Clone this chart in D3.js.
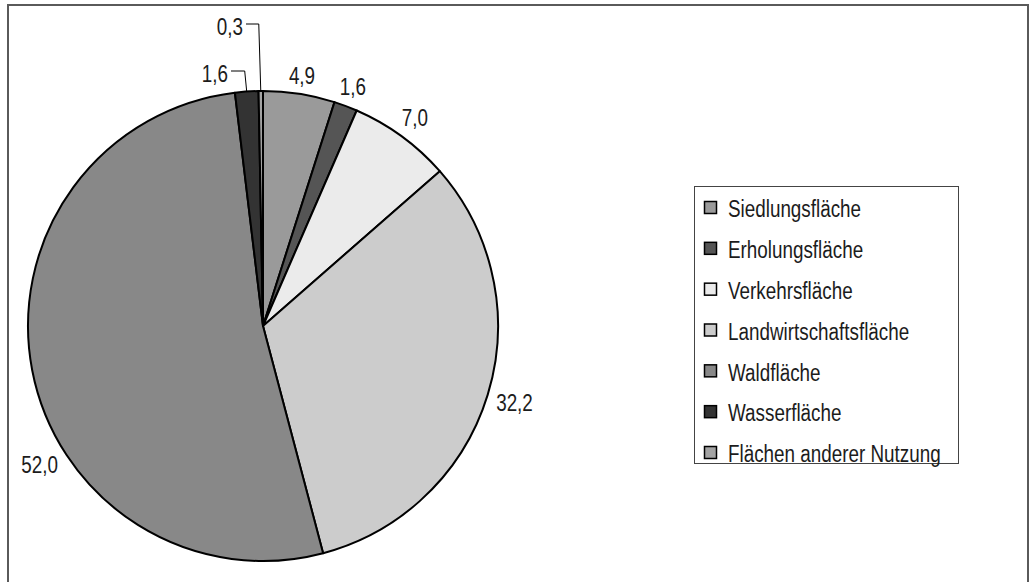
<!DOCTYPE html>
<html><head><meta charset="utf-8">
<script src="https://cdn.jsdelivr.net/npm/d3@7"></script>
<style>
html,body{margin:0;padding:0;background:#fff;}
svg{display:block;font-family:"Liberation Sans",Arial,sans-serif;}
</style></head>
<body>
<svg id="chart" width="1030" height="582"></svg>
<script>
const categories = ["Siedlungsfläche","Erholungsfläche","Verkehrsfläche","Landwirtschaftsfläche","Waldfläche","Wasserfläche","Flächen anderer Nutzung"];
const values = [4.9, 1.6, 7.0, 32.2, 52.0, 1.6, 0.3];
const valueLabels = ["4,9","1,6","7,0","32,2","52,0","1,6","0,3"];
const colors = ["#9a9a9a","#555555","#ebebeb","#cccccc","#888888","#333333","#a3a3a3"];

const svg = d3.select("#chart");
const NARROW = 0.82; // condensed look of the original typeface
const fontSize = 23;

// outer frame (bottom edge falls outside the image)
svg.append("rect").attr("x",8).attr("y",5).attr("width",1020).attr("height",600)
  .attr("fill","none").attr("stroke","#5a5a5a").attr("stroke-width",2);

const cx = 263, cy = 326, R = 235;
const data = categories.map((c,i)=>({cat:c, value:values[i], label:valueLabels[i], color:colors[i]}));
const pie = d3.pie().sort(null).value(d=>d.value).startAngle(0).endAngle(2*Math.PI);
const arcs = pie(data);
const arc = d3.arc().innerRadius(0).outerRadius(R);

const g = svg.append("g").attr("transform",`translate(${cx},${cy})`);
g.selectAll("path.slice").data(arcs).join("path").attr("class","slice")
  .attr("d",arc).attr("fill",d=>d.data.color)
  .attr("stroke","#000").attr("stroke-width",2).attr("stroke-linejoin","round");

function narrowText(parent, x, y, str, anchor){
  return parent.append("text").text(str)
    .attr("font-size",fontSize).attr("fill","#1c1c1c")
    .attr("text-anchor",anchor).attr("dominant-baseline","central")
    .attr("transform",`translate(${x},${y}) scale(${NARROW},1)`);
}

// labels
const angleShift = {4: -21};
const leader = {5: {tx:-35, ty:-252}, 6: {tx:-20, ty:-299}};
arcs.forEach((a,i)=>{
  let mid = (a.startAngle + a.endAngle)/2;
  if (leader[i]) {
    const L = leader[i];
    const px = R*Math.sin(mid), py = -R*Math.cos(mid);
    narrowText(g, L.tx, L.ty, a.data.label, "end");
    const ex = L.tx + 3, ey = L.ty - 3;
    const kx = px - 2;
    g.append("path").attr("d",`M${ex},${ey}L${kx},${ey}L${px},${py}`)
      .attr("fill","none").attr("stroke","#000").attr("stroke-width",1);
    return;
  }
  const t = narrowText(g, 0, 0, a.data.label, "middle");
  const w = t.node().getBBox().width*NARROW, h = fontSize*0.72;
  if (angleShift[i]) mid += angleShift[i]*Math.PI/180;
  const s = Math.sin(mid), c = -Math.cos(mid);
  const r = R + 8 + Math.abs(s)*w/2 + Math.abs(c)*h/2;
  t.attr("transform",`translate(${r*s},${r*c}) scale(${NARROW},1)`);
});

// legend
const lg = svg.append("g");
lg.append("rect").attr("x",694.5).attr("y",186.5).attr("width",264).attr("height",277)
  .attr("fill","#fff").attr("stroke","#444").attr("stroke-width",1);
const ly = d3.scalePoint().domain(categories).range([208, 453]);
const items = lg.selectAll("g.item").data(data).join("g").attr("class","item")
  .attr("transform",d=>`translate(0,${ly(d.cat)})`);
items.append("rect").attr("x",704.5).attr("y",-6.5).attr("width",12).attr("height",12)
  .attr("fill",d=>d.color).attr("stroke","#000").attr("stroke-width",1.5);
items.each(function(d){ narrowText(d3.select(this), 728, 1, d.cat, "start"); });
</script>
</body></html>
